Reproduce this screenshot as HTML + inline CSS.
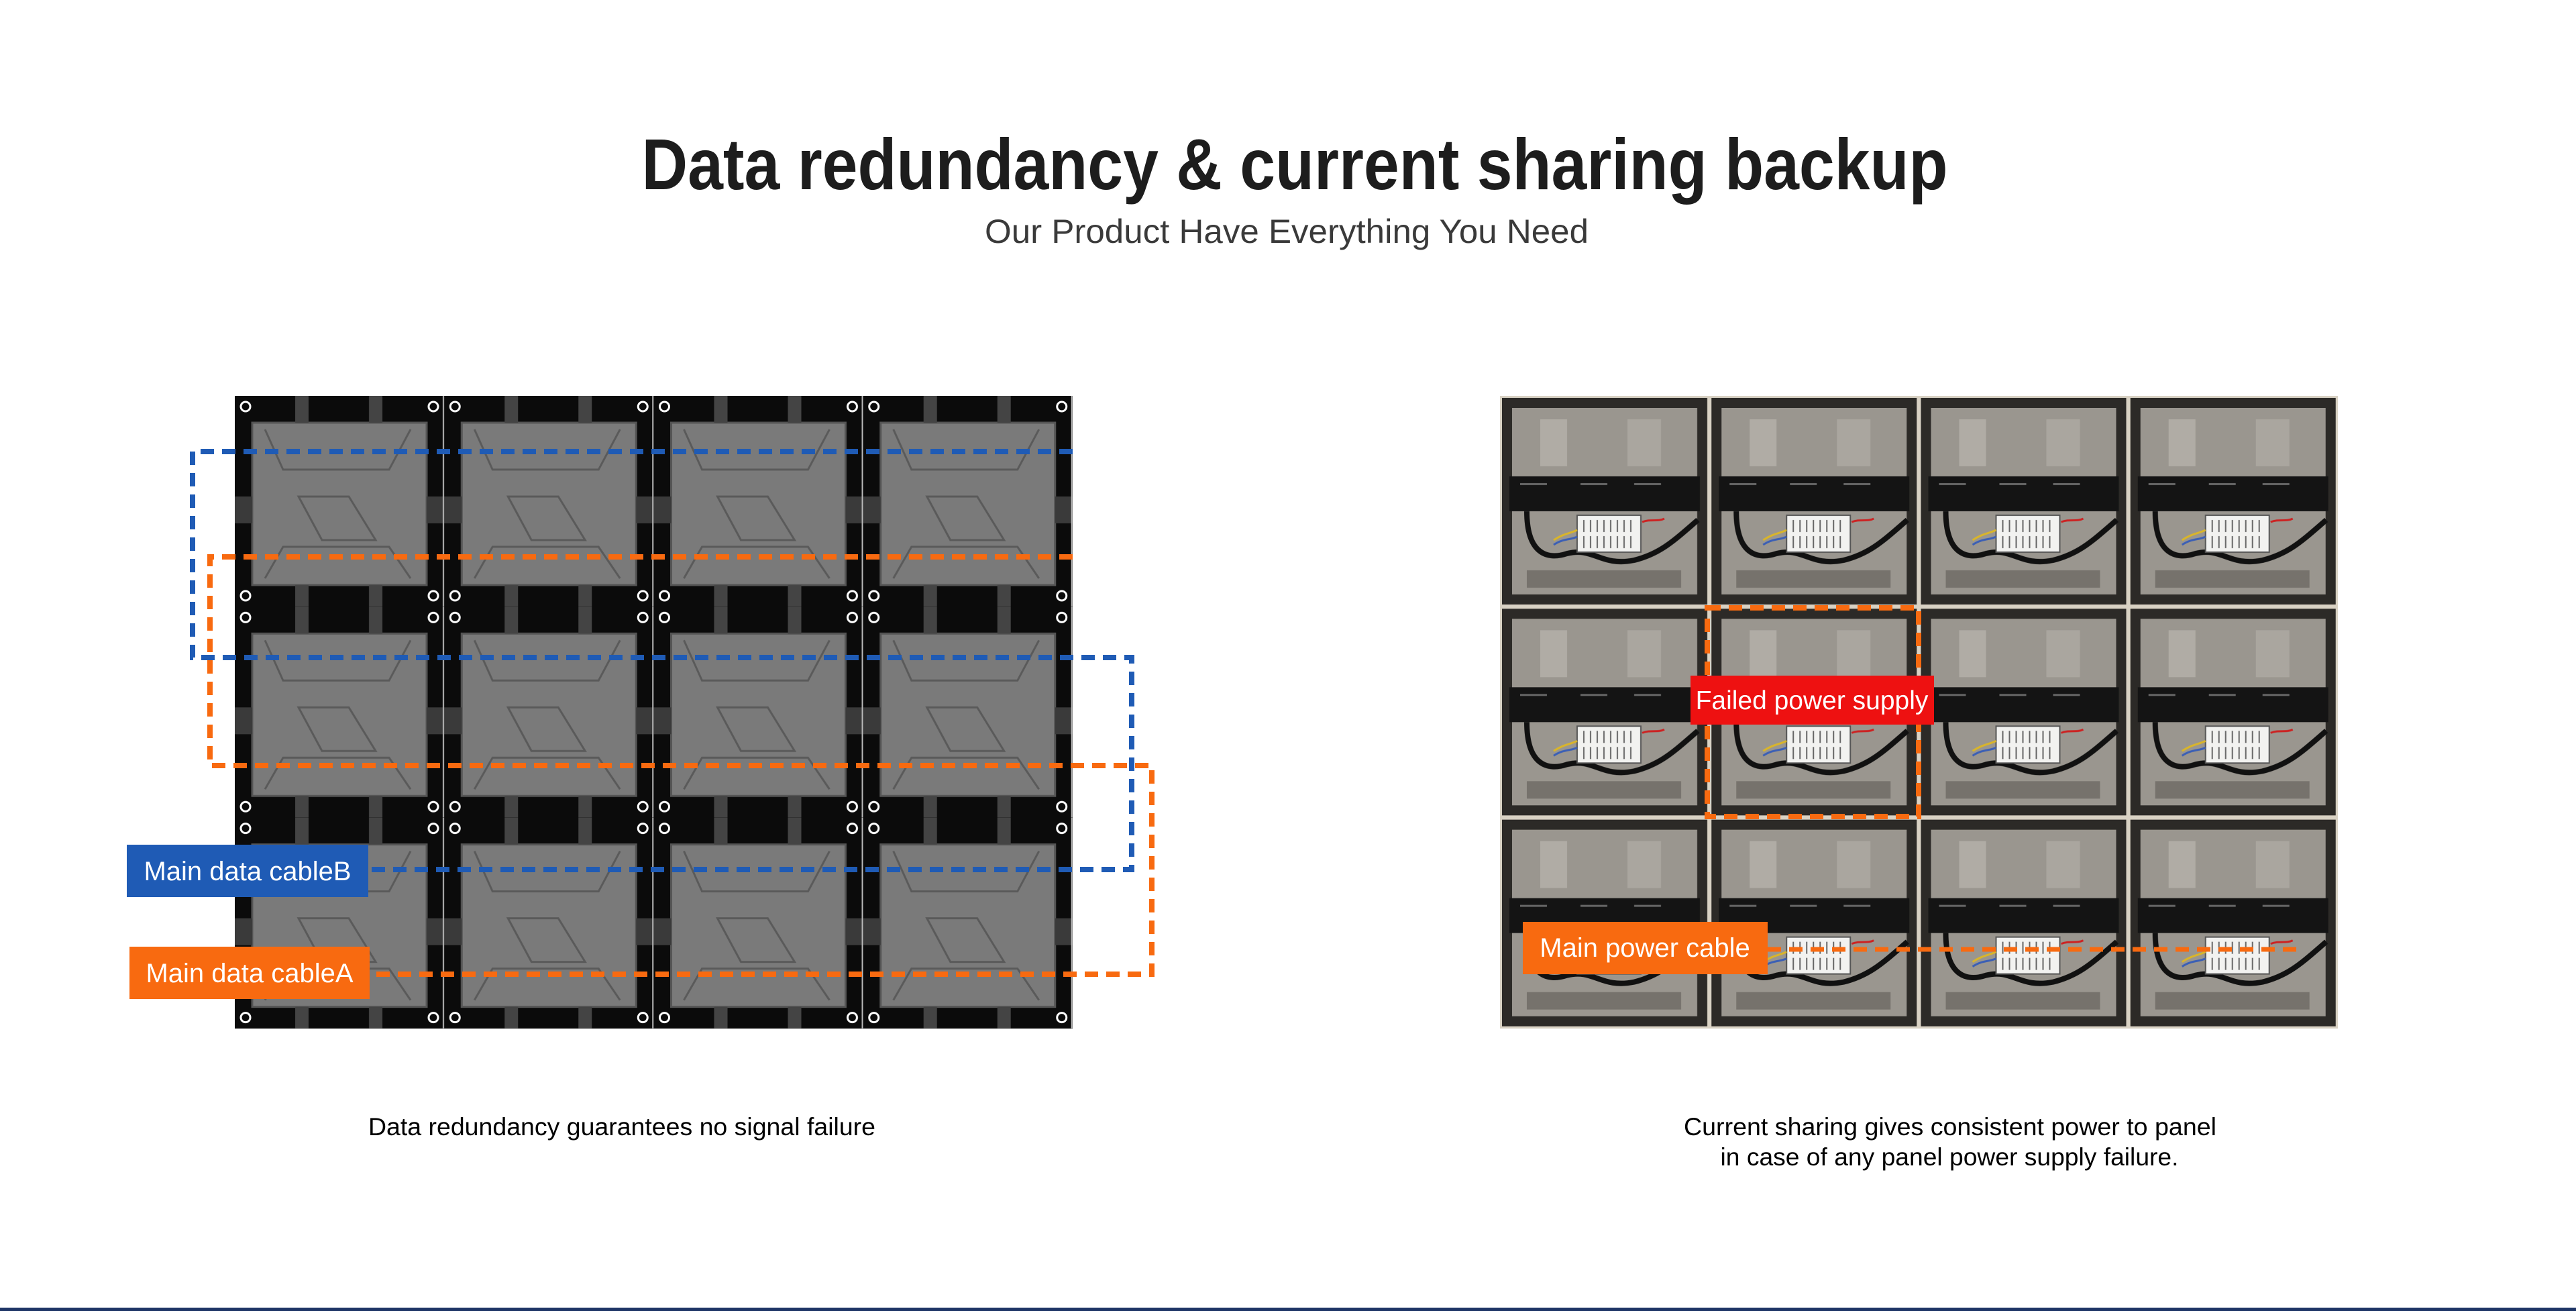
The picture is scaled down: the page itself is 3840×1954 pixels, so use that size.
<!DOCTYPE html>
<html><head><meta charset="utf-8"><style>
html,body{margin:0;padding:0;background:#fff;}
svg{display:block;}
</style></head><body>
<svg width="3840" height="1954" viewBox="0 0 3840 1954" xmlns="http://www.w3.org/2000/svg">
<defs>
<pattern id="lc" x="350" y="590" width="312.25" height="314.33" patternUnits="userSpaceOnUse">
  <rect width="312.25" height="314.33" fill="#0b0b0b"/>
  <rect x="26" y="40" width="260" height="242" fill="#7a7a7a"/>
  <rect x="26" y="40" width="260" height="242" fill="none" stroke="#555" stroke-width="3"/>
  <rect x="0" y="150" width="26" height="40" fill="#3a3a3a"/>
  <rect x="286" y="150" width="26" height="40" fill="#3a3a3a"/>
  <rect x="90" y="0" width="20" height="40" fill="#444"/>
  <rect x="200" y="0" width="20" height="40" fill="#444"/>
  <rect x="90" y="282" width="20" height="32" fill="#444"/>
  <rect x="200" y="282" width="20" height="32" fill="#444"/>
  <path d="M45 50 L72 110 L230 110 L262 50" fill="none" stroke="#5a5a5a" stroke-width="3"/>
  <path d="M95 150 L170 150 L210 215 L130 215 Z" fill="none" stroke="#5a5a5a" stroke-width="3"/>
  <path d="M45 272 L72 225 L230 225 L262 272" fill="none" stroke="#5a5a5a" stroke-width="3"/>
  <circle cx="16" cy="16" r="7" fill="none" stroke="#fff" stroke-width="3"/>
  <circle cx="296" cy="16" r="7" fill="none" stroke="#fff" stroke-width="3"/>
  <circle cx="16" cy="298" r="7" fill="none" stroke="#fff" stroke-width="3"/>
  <circle cx="296" cy="298" r="7" fill="none" stroke="#fff" stroke-width="3"/>
  <line x1="311" y1="0" x2="311" y2="314" stroke="#bbb" stroke-width="2"/>
</pattern>
<pattern id="rc" x="2236" y="590" width="312.25" height="314.33" patternUnits="userSpaceOnUse">
  <rect width="312.25" height="314.33" fill="#d9d2c4"/>
  <rect x="3" y="3" width="306" height="308" fill="#2c2a27"/>
  <rect x="18" y="18" width="276" height="278" fill="#9a968f"/>
  <rect x="60" y="35" width="40" height="70" fill="#b0aca5"/>
  <rect x="190" y="35" width="50" height="70" fill="#aaa69f"/>
  <rect x="40" y="260" width="230" height="26" fill="#76726c"/>
  <rect x="14" y="120" width="284" height="52" fill="#141414"/>
  <rect x="30" y="130" width="40" height="3" fill="#666"/>
  <rect x="120" y="130" width="40" height="3" fill="#666"/>
  <rect x="200" y="130" width="40" height="3" fill="#666"/>
  <path d="M40 172 C40 235 70 245 100 235 C140 225 150 255 200 245 C240 235 260 215 295 185" fill="none" stroke="#111" stroke-width="8"/>
  <rect x="115" y="178" width="95" height="55" fill="#f2f2f0" stroke="#555" stroke-width="2"/>
  <g stroke="#666" stroke-width="2">
   <line x1="125" y1="185" x2="125" y2="203"/><line x1="135" y1="185" x2="135" y2="203"/><line x1="145" y1="185" x2="145" y2="203"/><line x1="155" y1="185" x2="155" y2="203"/><line x1="165" y1="185" x2="165" y2="203"/><line x1="175" y1="185" x2="175" y2="203"/><line x1="185" y1="185" x2="185" y2="203"/><line x1="195" y1="185" x2="195" y2="203"/>
   <line x1="125" y1="209" x2="125" y2="227"/><line x1="135" y1="209" x2="135" y2="227"/><line x1="145" y1="209" x2="145" y2="227"/><line x1="155" y1="209" x2="155" y2="227"/><line x1="165" y1="209" x2="165" y2="227"/><line x1="175" y1="209" x2="175" y2="227"/><line x1="185" y1="209" x2="185" y2="227"/><line x1="195" y1="209" x2="195" y2="227"/>
  </g>
  <path d="M80 215 C95 205 105 205 115 200" fill="none" stroke="#d9b52a" stroke-width="3"/>
  <path d="M80 222 C95 212 105 215 115 210" fill="none" stroke="#3b5fb5" stroke-width="3"/>
  <path d="M212 188 C225 183 235 188 245 183" fill="none" stroke="#c22" stroke-width="3"/>
</pattern>
</defs>

<text x="1930" y="282" text-anchor="middle" font-family="Liberation Sans, sans-serif" font-weight="bold" font-size="108" fill="#1d1d1d" textLength="1947" lengthAdjust="spacingAndGlyphs">Data redundancy &amp; current sharing backup</text>
<text x="1918" y="362" text-anchor="middle" font-family="Liberation Sans, sans-serif" font-size="50" fill="#3a3a3a" textLength="900" lengthAdjust="spacingAndGlyphs">Our Product Have Everything You Need</text>

<rect x="350" y="590" width="1249" height="943" fill="url(#lc)"/>

<g fill="none" stroke-width="8" stroke-dasharray="20 12">
 <path d="M1599 673 H287 V980 H1687 V1296 H549" stroke="#1f5bb5"/>
 <path d="M1599 830 H313 V1141 H1717 V1452 H551" stroke="#f86a10"/>
</g>
<rect x="189" y="1259" width="360" height="78" fill="#1f5bb5"/>
<text x="369" y="1312" text-anchor="middle" font-family="Liberation Sans, sans-serif" font-size="40" fill="#fff">Main data cableB</text>
<rect x="193" y="1411" width="358" height="78" fill="#f86a10"/>
<text x="372" y="1464" text-anchor="middle" font-family="Liberation Sans, sans-serif" font-size="40" fill="#fff">Main data cableA</text>

<rect x="2236" y="590" width="1249" height="943" fill="url(#rc)"/>
<rect x="2545" y="906" width="315" height="311" fill="none" stroke="#f86a10" stroke-width="8" stroke-dasharray="20 12"/>
<rect x="2520" y="1007" width="363" height="73" fill="#ee1111"/>
<text x="2701" y="1057" text-anchor="middle" font-family="Liberation Sans, sans-serif" font-size="39" fill="#fff">Failed power supply</text>
<line x1="2635" y1="1415" x2="3429" y2="1415" stroke="#f86a10" stroke-width="7" stroke-dasharray="20 12"/>
<rect x="2270" y="1374" width="365" height="78" fill="#f86a10"/>
<text x="2452" y="1426" text-anchor="middle" font-family="Liberation Sans, sans-serif" font-size="40" fill="#fff">Main power cable</text>

<text x="927" y="1692" text-anchor="middle" font-family="Liberation Sans, sans-serif" font-size="37" fill="#000" textLength="756" lengthAdjust="spacingAndGlyphs">Data redundancy guarantees no signal failure</text>
<text x="2907" y="1692" text-anchor="middle" font-family="Liberation Sans, sans-serif" font-size="37" fill="#000" textLength="794" lengthAdjust="spacingAndGlyphs">Current sharing gives consistent power to panel</text>
<text x="2906" y="1737" text-anchor="middle" font-family="Liberation Sans, sans-serif" font-size="37" fill="#000" textLength="683" lengthAdjust="spacingAndGlyphs">in case of any panel power supply failure.</text>

<rect x="0" y="1949" width="3840" height="5" fill="#1e3566"/>
</svg>
</body></html>
